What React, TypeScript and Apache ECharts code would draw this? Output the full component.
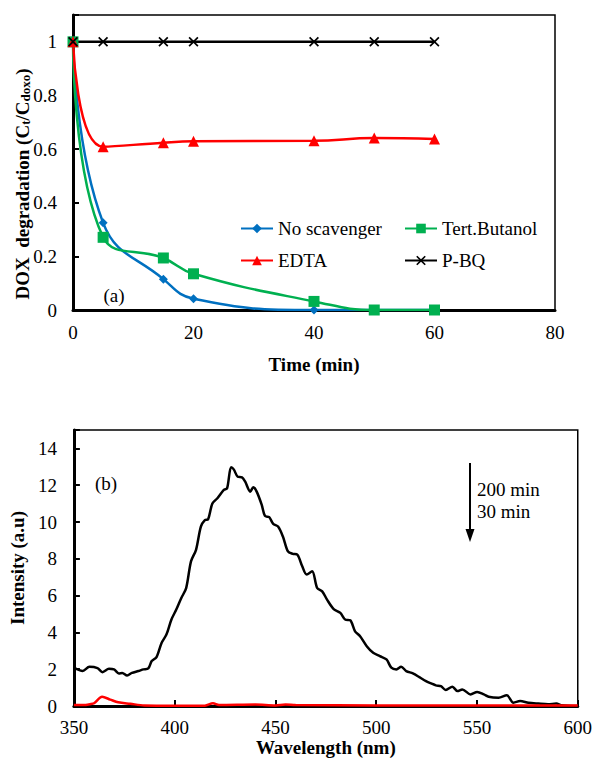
import React, { useEffect, useRef } from "react";
import * as echarts from "echarts";

// ---- Chart (a): DOX degradation vs time ----
const timeMin = [0, 5, 15, 20, 40, 50, 60];
const noScavenger = [1, 0.325, 0.115, 0.042, 0, 0, 0];
const tertButanol = [1, 0.271, 0.194, 0.135, 0.032, 0, 0];
const edta = [1, 0.609, 0.624, 0.629, 0.631, 0.641, 0.638];
const pbq = [1, 1, 1, 1, 1, 1, 1];

// ---- Chart (b): fluorescence spectra ----
const wl200 = [350, 354.4, 357.7, 361.7, 364.2, 367.4, 369.9, 372.3, 374, 376.4, 378.8, 382, 384.5, 386.9, 388.6, 391, 393.5, 395.9, 398.4, 400.8, 403.3, 405.7, 408.1, 410.6, 413, 415, 416.6, 418.7, 421.2, 424.4, 426, 428, 429.3, 431.3, 433.4, 435, 437.5, 439, 440.7, 443.2, 444.8, 446.9, 448.9, 451.3, 453.7, 456.2, 458.6, 460.9, 463.3, 465.5, 468.2, 470.7, 473.2, 475.6, 478.9, 482.2, 484.6, 487.1, 489.5, 492, 495.3, 498.5, 501.8, 505.1, 507.5, 510, 512.4, 514.9, 518.2, 521.4, 524.7, 527.2, 529.6, 532.1, 534.5, 537.8, 540.3, 542.7, 546.8, 550.1, 553.4, 555.8, 560.7, 564.8, 568.1, 571.4, 575.5, 580.4, 585.3, 589.4, 591.8, 600];
const int200 = [2.08, 1.9, 2.13, 2.06, 1.84, 2.02, 1.99, 1.77, 1.8, 1.66, 1.8, 1.9, 1.99, 2.04, 2.44, 2.66, 3.43, 3.88, 4.7, 5.24, 5.87, 6.41, 7.86, 8.49, 9.75, 10.1, 10.15, 11.0, 11.29, 11.74, 11.83, 12.97, 12.86, 12.46, 12.43, 12.19, 11.65, 11.89, 11.65, 10.93, 10.33, 10.26, 9.9, 9.75, 9.21, 8.4, 8.27, 8.22, 7.59, 7.14, 7.32, 6.41, 6.23, 5.78, 5.27, 5.06, 4.7, 4.66, 4.06, 3.79, 3.25, 2.89, 2.71, 2.53, 2.08, 1.99, 2.13, 1.9, 1.77, 1.57, 1.35, 1.23, 1.12, 1.08, 0.87, 1.05, 0.81, 0.9, 0.63, 0.76, 0.63, 0.5, 0.45, 0.58, 0.18, 0.27, 0.18, 0.13, 0.09, 0.14, 0.04, 0.0];
const wl30 = [350, 355, 358, 360, 364, 368, 372, 378, 385, 400, 415, 419, 422, 440, 450, 455, 460, 500, 600];
const int30 = [0.05, 0.05, 0.1, 0.15, 0.5, 0.35, 0.2, 0.12, 0.03, 0.02, 0.02, 0.15, 0.05, 0.08, 0.03, 0.08, 0.05, 0.03, 0.03];

const FONT = "'Liberation Serif', 'Times New Roman', serif";
const CROSS = "path://M0,1.2L1.2,0L5,3.8L8.8,0L10,1.2L6.2,5L10,8.8L8.8,10L5,6.2L1.2,10L0,8.8L3.8,5Z";

const zip = (xs: number[], ys: number[]) => xs.map((x, i) => [x, ys[i]]);

export default function App() {
  const ref = useRef<HTMLDivElement>(null);
  useEffect(() => {
    if (!ref.current) return;
    const chart = echarts.init(ref.current, null, { renderer: "svg" });
    const tickLabel = { fontFamily: FONT, fontSize: 19, color: "#000" };
    const lineSeries = (name: string, ys: number[], color: string, symbol: string, size: number) => ({
      name,
      type: "line",
      xAxisIndex: 0,
      yAxisIndex: 0,
      data: zip(timeMin, ys),
      smooth: 0.45,
      symbol,
      symbolSize: size,
      showSymbol: true,
      lineStyle: { color, width: 2.5 },
      itemStyle: { color },
    });
    const legendText = { fontFamily: FONT, fontSize: 19, color: "#000" };
    chart.setOption({
      animation: false,
      backgroundColor: "#fff",
      textStyle: { fontFamily: FONT },
      grid: [
        { left: 73, right: 40, top: 15, height: 295, show: true, borderColor: "#000", borderWidth: 1.5, backgroundColor: "transparent" },
        { left: 71, right: 15, top: 430, bottom: 51, show: true, borderColor: "#000", borderWidth: 1.5, backgroundColor: "transparent" },
      ],
      xAxis: [
        {
          gridIndex: 0,
          type: "value",
          min: 0,
          max: 80,
          interval: 20,
          axisLine: { lineStyle: { color: "#000", width: 3 } },
          axisTick: { show: false },
          splitLine: { show: false },
          axisLabel: { ...tickLabel, margin: 13 },
          name: "Time (min)",
          nameLocation: "middle",
          nameGap: 45,
          nameTextStyle: { fontFamily: FONT, fontSize: 19, fontWeight: "bold", color: "#000" },
        },
        {
          gridIndex: 1,
          type: "value",
          min: 350,
          max: 600,
          interval: 50,
          axisLine: { lineStyle: { color: "#000", width: 3 } },
          axisTick: { show: true, inside: true, length: 6, lineStyle: { color: "#000", width: 2 } },
          splitLine: { show: false },
          axisLabel: { ...tickLabel, margin: 12 },
          name: "Wavelength (nm)",
          nameLocation: "middle",
          nameGap: 32,
          nameTextStyle: { fontFamily: FONT, fontSize: 19, fontWeight: "bold", color: "#000" },
        },
      ],
      yAxis: [
        {
          gridIndex: 0,
          type: "value",
          min: 0,
          max: 1.1,
          interval: 0.2,
          axisLine: { show: true, lineStyle: { color: "#000", width: 3 } },
          axisTick: { show: true, inside: true, length: 6, lineStyle: { color: "#000", width: 2 } },
          splitLine: { show: false },
          axisLabel: {
            ...tickLabel,
            margin: 16,
            formatter: (v: number) => (v > 1.01 ? "" : String(+v.toFixed(1))),
          },
        },
        {
          gridIndex: 1,
          type: "value",
          min: 0,
          max: 15,
          interval: 2,
          axisLine: { show: true, lineStyle: { color: "#000", width: 3 } },
          axisTick: { show: true, inside: true, length: 6, lineStyle: { color: "#000", width: 2 } },
          splitLine: { show: false },
          axisLabel: {
            ...tickLabel,
            margin: 17,
            formatter: (v: number) => (v > 14.01 ? "" : String(v)),
          },
          name: "Intensity (a.u)",
          nameLocation: "middle",
          nameGap: 26,
          nameTextStyle: { fontFamily: FONT, fontSize: 19, fontWeight: "bold", color: "#000" },
        },
      ],
      legend: [
        {
          orient: "vertical",
          left: 235,
          top: 214,
          itemWidth: 32,
          itemHeight: 12,
          itemGap: 13,
          data: ["No scavenger", "EDTA"],
          textStyle: legendText,
        },
        {
          orient: "vertical",
          left: 399,
          top: 214,
          itemWidth: 32,
          itemHeight: 12,
          itemGap: 13,
          data: ["Tert.Butanol", "P-BQ"],
          textStyle: legendText,
        },
      ],
      series: [
        lineSeries("No scavenger", noScavenger, "#0070C0", "diamond", 9),
        lineSeries("Tert.Butanol", tertButanol, "#00B050", "rect", 11),
        lineSeries("EDTA", edta, "#FF0000", "triangle", 11),
        { ...lineSeries("P-BQ", pbq, "#000000", CROSS, 10), smooth: false },
        {
          name: "200 min",
          type: "line",
          xAxisIndex: 1,
          yAxisIndex: 1,
          data: zip(wl200, int200),
          smooth: 0.3,
          symbol: "none",
          lineStyle: { color: "#000", width: 2.5 },
        },
        {
          name: "30 min",
          type: "line",
          xAxisIndex: 1,
          yAxisIndex: 1,
          data: zip(wl30, int30),
          smooth: 0.3,
          symbol: "none",
          lineStyle: { color: "#FF0000", width: 2.5 },
        },
      ],
      graphic: [
        {
          type: "text",
          x: 20,
          y: 184,
          rotation: Math.PI / 2,
          style: {
            text: "{b|DOX  degradation (C}{s|t}{b|/C}{s|doxo}{b|)}",
            align: "center",
            verticalAlign: "middle",
            fill: "#000",
            rich: {
              b: { fontFamily: FONT, fontSize: 19, fontWeight: "bold", lineHeight: 24, verticalAlign: "bottom" },
              s: { fontFamily: FONT, fontSize: 13, fontWeight: "bold", lineHeight: 14, verticalAlign: "bottom" },
            },
          },
        },
        {
          type: "text",
          x: 114,
          y: 295,
          style: { text: "(a)", align: "center", verticalAlign: "middle", fontFamily: FONT, fontSize: 19, fill: "#000" },
        },
        {
          type: "text",
          x: 106,
          y: 483,
          style: { text: "(b)", align: "center", verticalAlign: "middle", fontFamily: FONT, fontSize: 19, fill: "#000" },
        },
        {
          type: "line",
          shape: { x1: 470, y1: 463, x2: 470, y2: 532 },
          style: { stroke: "#000", lineWidth: 2 },
        },
        {
          type: "polygon",
          shape: { points: [[465.5, 529], [474.5, 529], [470, 542]] },
          style: { fill: "#000" },
        },
        {
          type: "text",
          x: 477,
          y: 489,
          style: { text: "200 min", align: "left", verticalAlign: "middle", fontFamily: FONT, fontSize: 19, fill: "#000" },
        },
        {
          type: "text",
          x: 477,
          y: 511,
          style: { text: "30 min", align: "left", verticalAlign: "middle", fontFamily: FONT, fontSize: 19, fill: "#000" },
        },
      ],
    });
    return () => chart.dispose();
  }, []);
  return (
    <div
      ref={ref}
      style={{ position: "fixed", left: 0, top: 0, width: 595, height: 758, background: "#fff" }}
    />
  );
}
